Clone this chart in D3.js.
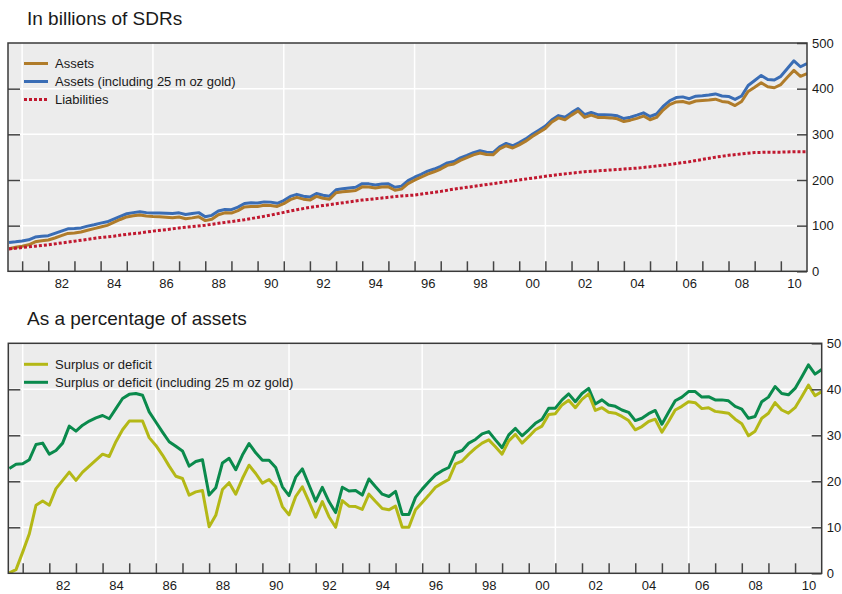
<!DOCTYPE html>
<html>
<head>
<meta charset="utf-8">
<script src="https://cdn.jsdelivr.net/npm/d3@7"></script>
<style>
body { margin: 0; background: #fff; }
svg { font-family: "Liberation Sans", Arial, sans-serif; }
</style>
</head>
<body>
<svg width="842" height="594"></svg>
<script>
const svg = d3.select("svg")

// quarterly, mid 1980 to end 2010 (billions of SDRs)
const assets = [49.5, 52.5, 55, 58, 64.5, 67, 68.6, 73, 78, 83, 84, 86, 90, 93.5, 97, 100.5,
  107, 113.5, 119, 121.5, 123.5, 121, 120, 119.5, 118.5, 117.5, 119, 115, 117, 119.5, 111, 114,
  124, 128, 127.5, 133, 141, 142, 142, 144.5, 144, 142, 148, 157, 162, 158, 156, 164,
  160, 158, 172, 174, 175.5, 177, 185, 184.5, 182.5, 184.5, 185, 177.5, 180, 192, 199.5, 206,
  213, 218, 224, 232, 235, 243, 249, 255, 259, 256, 255, 268, 275, 270, 277, 285,
  295, 304, 313, 327, 336, 332, 342, 351, 337, 342, 337, 337, 336, 334, 328, 331,
  335, 340, 332, 337, 353, 365, 371, 372, 368, 373, 374, 375, 377, 372, 370, 363,
  372, 394, 403, 413, 404, 402, 409, 425, 440, 427, 433]

const assetsGold = [63, 64.5, 66.5, 69, 75, 77, 78, 83, 88, 93, 93.5, 95, 99, 102, 105.5, 108.5,
  114.5, 120.5, 126, 128.5, 130.5, 128.5, 127.5, 127.5, 127, 126.5, 128, 124.5, 126.5, 128.5, 119.5, 122.5,
  132, 135.5, 135, 140.5, 148.5, 150, 149.5, 152, 151.5, 149, 155, 164, 168.5, 164.5, 162.5, 170.5,
  166.5, 164.5, 178.5, 181, 182.5, 184, 192, 191.5, 189, 191, 191.5, 184, 186.5, 198.5, 206, 212.5,
  219.5, 224, 230, 237.5, 240.5, 248.5, 254, 260, 264, 261, 260, 272.5, 280, 275, 282, 290,
  300, 309, 318, 332, 341, 337.5, 347.5, 356.5, 343, 348, 343, 343, 342.5, 340.5, 334.5, 337.5,
  342, 347, 339, 344.5, 361, 373.5, 380.5, 382, 378, 383.5, 384.5, 386, 388.5, 384, 383, 376.5,
  384, 407, 418, 429, 420, 419, 427, 444, 461, 448, 455]

// half-yearly, mid 1980 to end 2010
const liabilities = [49, 52, 55, 58, 62, 66, 70, 74, 77, 81, 84, 88, 91, 95, 98, 101,
  105, 109, 113, 118, 123, 129, 135, 140, 144, 148, 152, 156, 159, 162, 165, 167,
  171, 175, 180, 184, 188, 192, 196, 200, 204, 208, 212, 215, 218, 220, 222, 224,
  226, 229, 232, 236, 240, 245, 250, 254, 257, 260, 261, 261, 262, 262]

// quarterly, per cent of assets
const surplus = [0.1, 0.8, 4.6, 8.6, 14.8, 15.7, 14.8, 18.4, 20.2, 22, 20.2, 22, 23.3, 24.6, 25.9, 25.4,
  28.6, 31.2, 33.1, 33.1, 33.1, 29.5, 27.8, 25.7, 23.3, 21.1, 20.6, 17, 17.7, 18, 10.1, 12.6,
  18.2, 19.7, 17.2, 20.6, 23.5, 21.7, 19.6, 20.4, 18.8, 14.5, 12.7, 16.7, 18.8, 15.6, 12.2, 15.6,
  12.3, 10, 15.8, 14.6, 14.5, 13.9, 17.2, 15.6, 14.1, 13.8, 14.6, 10, 10, 13.8, 15.4, 17,
  18.7, 19.6, 20.4, 23.8, 24.4, 25.9, 27.2, 28.3, 29, 27.5, 25.9, 28.8, 30.2, 28.3, 29.7, 31.2,
  32, 34.5, 34.7, 36.6, 37.6, 36, 37.8, 39, 35.4, 36, 35, 34.8, 34.1, 33.2, 31.2, 31.9,
  33, 33.5, 30.7, 33, 35.5, 36.3, 37.3, 37.1, 35.8, 36, 35.2, 35, 34.8, 33.5, 32.5, 29.9,
  30.9, 33.7, 34.8, 37.1, 35.5, 34.8, 36, 38.4, 40.9, 38.6, 39.5]

const surplusGold = [22.8, 23.7, 23.8, 24.7, 28, 28.3, 25.9, 26.7, 28.3, 32, 30.9, 32.2, 33.1, 33.8, 34.3, 33.6,
  35.8, 38, 38.9, 39.1, 38.7, 35.1, 32.9, 30.7, 28.6, 27.6, 26.6, 23.3, 24.3, 24.7, 17, 18.6,
  24, 25, 22.5, 25.7, 28.2, 26.2, 24.6, 24.6, 23, 18.8, 16.9, 20.9, 22.7, 19.2, 15.7, 18.7,
  15.6, 13.2, 18.7, 17.9, 18, 17, 20.5, 18.8, 17.2, 16.7, 17.8, 12.8, 12.8, 16.5, 18.3, 19.9,
  21.4, 22.3, 23, 26.2, 26.7, 28.3, 29.1, 30.3, 30.8, 29, 27.3, 30.1, 31.5, 29.9, 31.2, 32.6,
  33.5, 35.9, 35.9, 37.7, 39, 37.3, 39.1, 40.2, 36.8, 37.7, 36.6, 36.3, 35.5, 35, 33.2, 33.7,
  34.7, 35.4, 32.4, 35, 37.5, 38.3, 39.5, 39.5, 38.3, 38.4, 37.7, 37.7, 37.5, 36.3, 35.7, 33.7,
  34.1, 37.3, 38.3, 40.6, 39.1, 38.8, 40.2, 42.7, 45.3, 43.3, 44.3]

const quarters = assets.map((d, i) => 1980.5 + i * 0.25)
const halfYears = liabilities.map((d, i) => 1980.5 + i * 0.5)

const yearTicks = d3.range(1981, 2011)
const gridYears = [1981, 1986, 1991, 1996, 2001, 2006]
const labelYears = d3.range(1982, 2011, 2)

const panels = [
  {
    title: "In billions of SDRs", titleY: 25, top: 43, bottom: 271.3, left: 8, right: 807,
    yMax: 500, yTicks: [0, 100, 200, 300, 400, 500], legendY: 63.5,
    series: [
      {name: "Assets (including 25 m oz gold)", dates: quarters, values: assetsGold, color: "#3a6db5", legend: 1},
      {name: "Assets", dates: quarters, values: assets, color: "#b07c2a", legend: 0},
      {name: "Liabilities", dates: halfYears, values: liabilities, color: "#c0182f", dash: "3 2", legend: 2}
    ]
  },
  {
    title: "As a percentage of assets", titleY: 325, top: 343.3, bottom: 573.3, left: 8.3, right: 821.7,
    yMax: 50, yTicks: [0, 10, 20, 30, 40, 50], legendY: 364.3,
    series: [
      {name: "Surplus or deficit (including 25 m oz gold)", dates: quarters, values: surplusGold, color: "#0a8a4c", legend: 1},
      {name: "Surplus or deficit", dates: quarters, values: surplus, color: "#b4b816", legend: 0}
    ]
  }
]

panels.forEach((p, pi) => {
  const x = d3.scaleLinear().domain([1980.46, 2011]).range([p.left, p.right])
  const y = d3.scaleLinear().domain([0, p.yMax]).range([p.bottom, p.top])
  const w = p.right - p.left
  const h = p.bottom - p.top

  svg.append("text")
    .attr("x", 27).attr("y", p.titleY)
    .attr("font-size", 19).attr("fill", "#1a1a1a")
    .text(p.title)

  const g = svg.append("g")

  g.append("rect")
    .attr("x", p.left).attr("y", p.top).attr("width", w).attr("height", h)
    .attr("fill", "#ececec")

  // grid
  g.selectAll(".hgrid").data(p.yTicks.slice(1, -1)).enter().append("line")
    .attr("x1", p.left).attr("x2", p.right)
    .attr("y1", d => y(d)).attr("y2", d => y(d))
    .attr("stroke", "#fff").attr("stroke-width", 1.5)
  g.selectAll(".vgrid").data(gridYears).enter().append("line")
    .attr("x1", d => x(d)).attr("x2", d => x(d))
    .attr("y1", p.top).attr("y2", p.bottom)
    .attr("stroke", "#fff").attr("stroke-width", 1.5)

  svg.append("clipPath").attr("id", "clip" + pi)
    .append("rect").attr("x", p.left).attr("y", p.top).attr("width", w).attr("height", h)

  const line = d3.line().x(d => x(d[0])).y(d => y(d[1]))

  p.series.forEach(s => {
    g.append("path")
      .datum(s.dates.map((t, i) => [t, s.values[i]]))
      .attr("clip-path", `url(#clip${pi})`)
      .attr("fill", "none")
      .attr("stroke", s.color)
      .attr("stroke-width", 3)
      .attr("stroke-linejoin", "round")
      .attr("stroke-dasharray", s.dash || null)
      .attr("d", line)
  })

  // year ticks and labels
  const xTicks = g.append("g")
    .attr("transform", `translate(0,${p.bottom})`)
    .call(d3.axisBottom(x).tickValues(yearTicks).tickSize(-10).tickFormat(""))
  xTicks.select(".domain").remove()
  xTicks.selectAll("line").attr("stroke", "#444").attr("stroke-width", 1.5)

  const xLabels = g.append("g")
    .attr("transform", `translate(0,${p.bottom})`)
    .call(d3.axisBottom(x).tickValues(labelYears.map(d => d + 0.5)).tickSize(0).tickPadding(7.5)
      .tickFormat(d => String(Math.floor(d) % 100).padStart(2, "0")))
  xLabels.select(".domain").remove()
  xLabels.selectAll("text").attr("font-size", 13).attr("font-family", null).attr("fill", "#1a1a1a")

  const yLeft = g.append("g")
    .attr("transform", `translate(${p.left},0)`)
    .call(d3.axisLeft(y).tickValues(p.yTicks.slice(1, -1)).tickSize(-12).tickFormat(""))
  yLeft.select(".domain").remove()
  yLeft.selectAll("line").attr("stroke", "#444").attr("stroke-width", 1.5)

  const yRight = g.append("g")
    .attr("transform", `translate(${p.right},0)`)
    .call(d3.axisRight(y).tickValues(p.yTicks).tickSize(-10).tickPadding(5))
  yRight.select(".domain").remove()
  yRight.selectAll("line").attr("stroke", "#444").attr("stroke-width", 1.5)
  yRight.selectAll("text").attr("font-size", 13).attr("font-family", null).attr("fill", "#1a1a1a")

  g.append("rect")
    .attr("x", p.left).attr("y", p.top).attr("width", w).attr("height", h)
    .attr("fill", "none").attr("stroke", "#3a3a3a").attr("stroke-width", 1.5)

  // legend
  const legend = g.append("g")
  p.series.forEach(s => {
    const ly = p.legendY + s.legend * 18
    legend.append("line")
      .attr("x1", 24).attr("x2", 48).attr("y1", ly).attr("y2", ly)
      .attr("stroke", s.color).attr("stroke-width", 3)
      .attr("stroke-dasharray", s.dash || null)
    legend.append("text")
      .attr("x", 55).attr("y", ly).attr("dy", "0.35em")
      .attr("font-size", 13).attr("fill", "#1a1a1a")
      .text(s.name)
  })
})
</script>
</body>
</html>
